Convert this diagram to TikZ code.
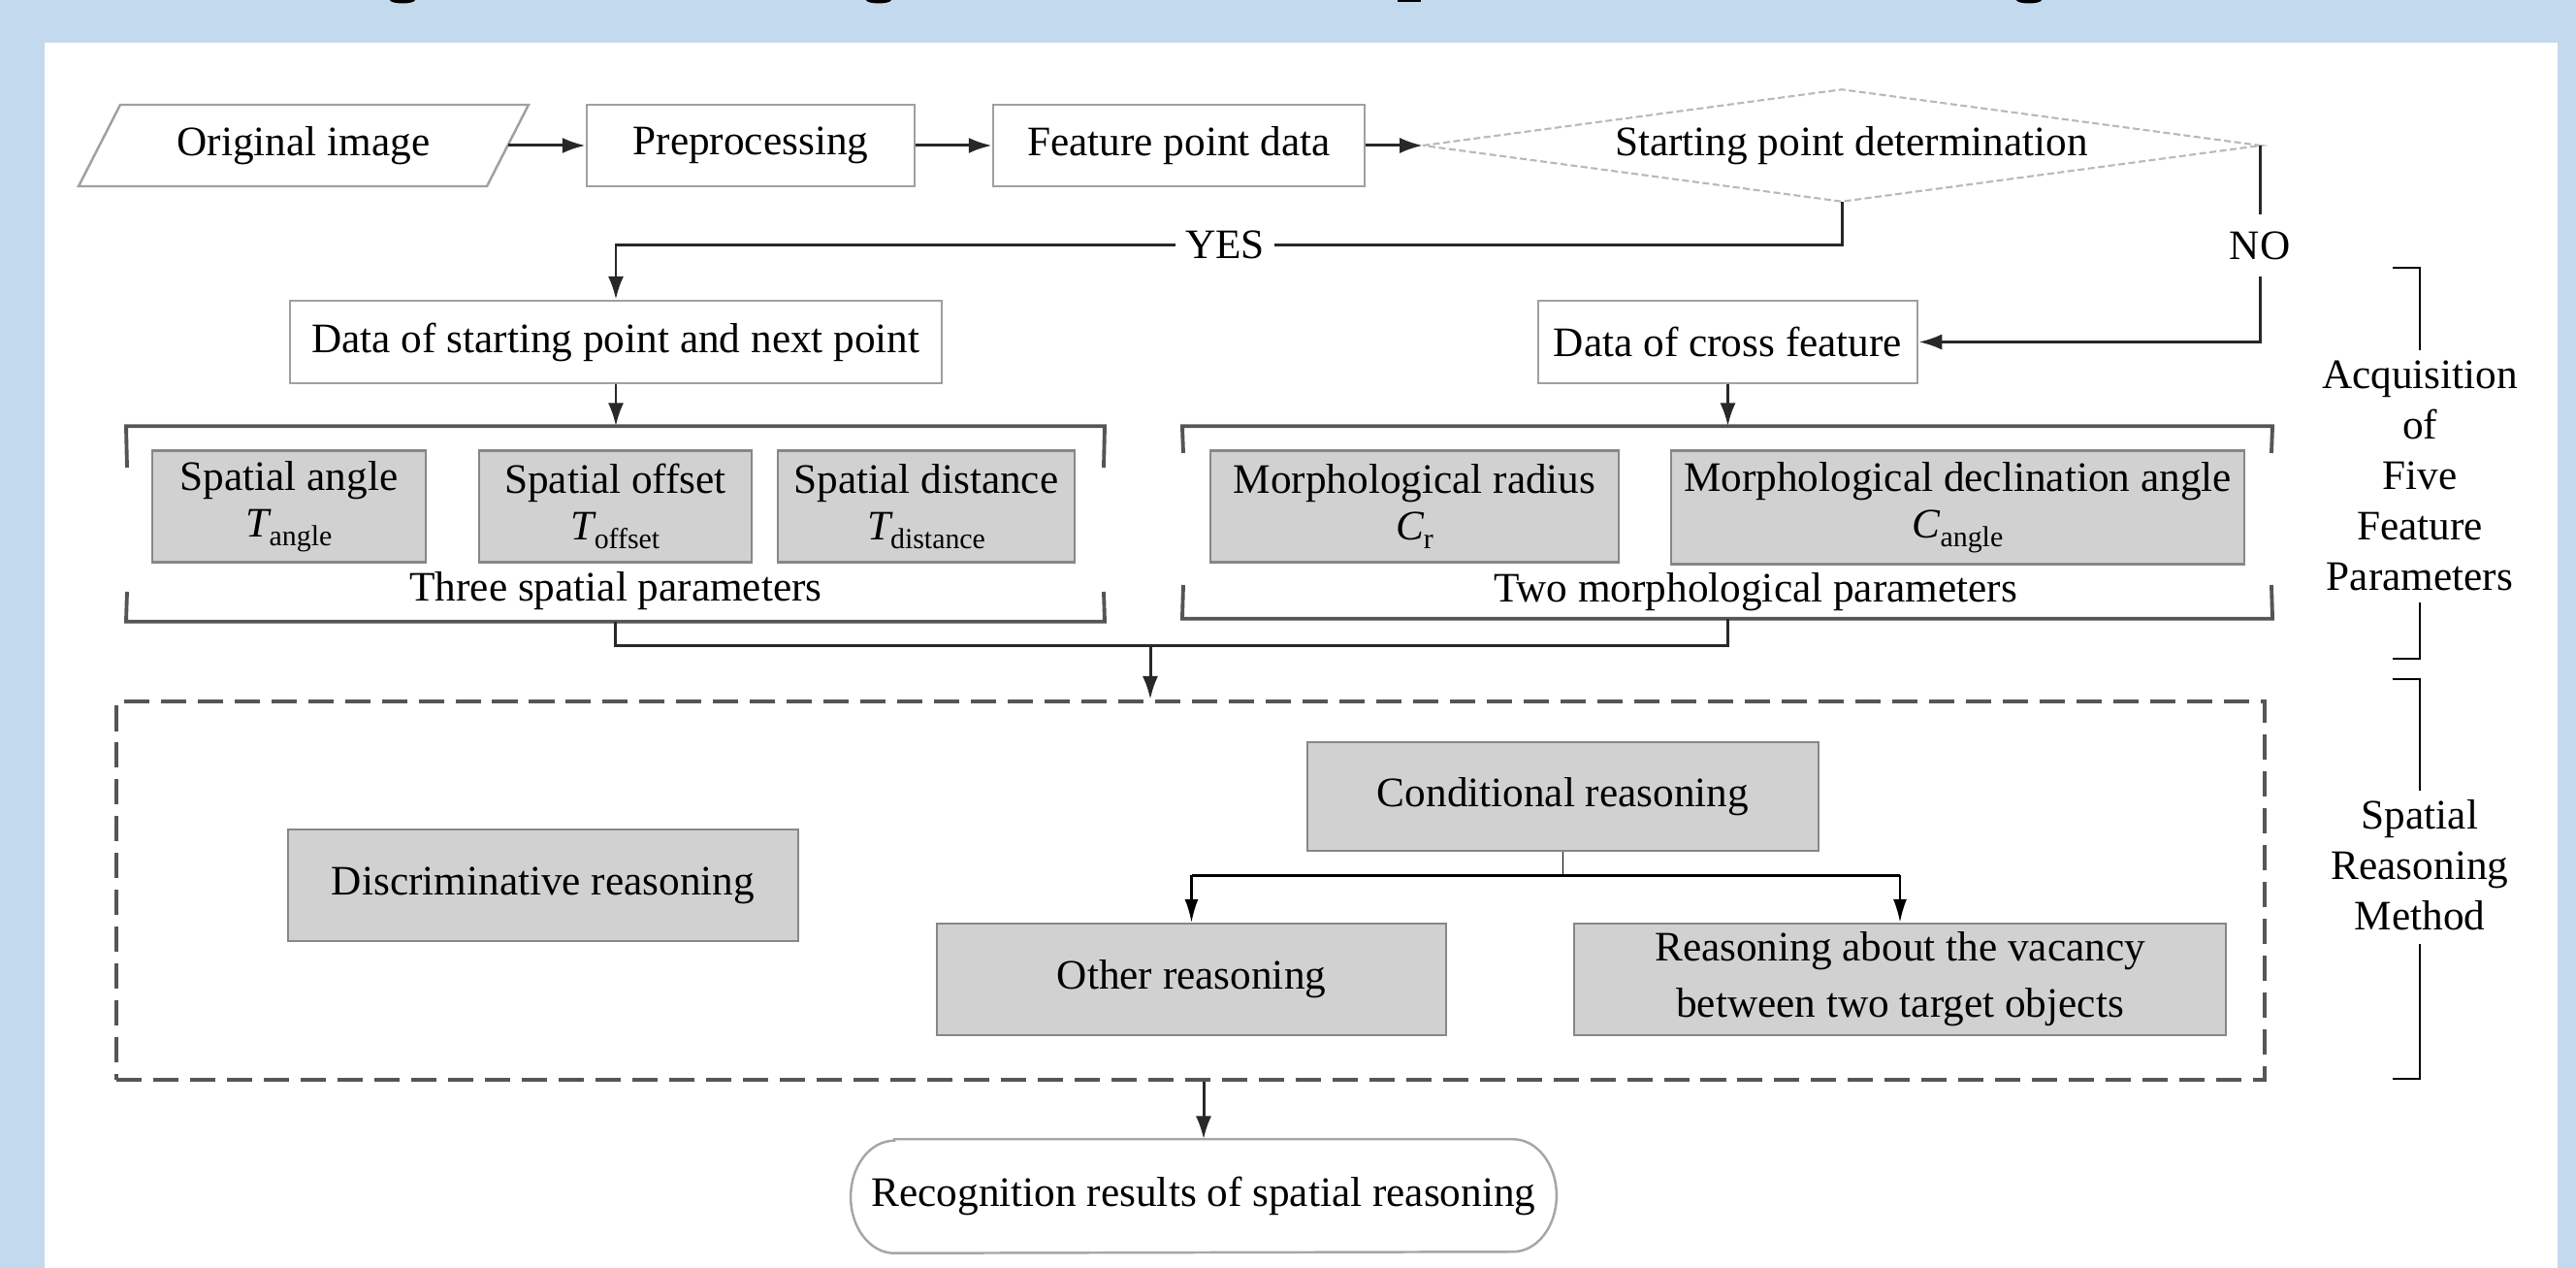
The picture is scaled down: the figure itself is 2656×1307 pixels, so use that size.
\documentclass[tikz,border=0pt]{standalone}
\usepackage{fontspec}
\setmainfont{Liberation Serif}
\usetikzlibrary{arrows.meta,calc}
\definecolor{bgblue}{RGB}{195,217,238}
\definecolor{boxedge}{RGB}{160,160,160}
\definecolor{shade}{RGB}{209,209,209}
\definecolor{shadeedge}{RGB}{135,135,135}
\definecolor{ink}{RGB}{40,40,40}
\definecolor{grp}{RGB}{85,85,85}
\newcommand\lowidx[1]{\raisebox{-0.45ex}{\fontsize{8.5}{9}\selectfont #1}}

\begin{document}
\begin{tikzpicture}[x=0.01cm,y=-0.01cm,
  every node/.style={font=\fontsize{12.3}{14.5}\selectfont, text=black, inner sep=0pt},
  plainbox/.style={draw=boxedge, line width=0.7pt, fill=white},
  shadebox/.style={draw=shadeedge, line width=0.7pt, fill=shade, align=center},
  parambox/.style={shadebox, font=\fontsize{12.3}{13.6}\selectfont, text depth=0.9cm, text height=0.1cm},
  arr/.style={draw=ink, line width=0.85pt, -{Latex[length=6.8pt,width=4.6pt]}},
  thinarr/.style={draw=black, line width=0.6pt, -{Latex[length=6.8pt,width=4pt]}},
  link/.style={draw=ink, line width=0.85pt},
  grpline/.style={draw=grp, line width=1.1pt},
  sidebrk/.style={draw=black, line width=0.7pt},
]
% canvas: blue frame and white sheet
\useasboundingbox (0,0) rectangle (2656,1307);
\fill[bgblue] (0,0) rectangle (2656,1307);
\fill[white] (46,44) rectangle (2637,1307);

% descender tips of the heading above the sheet
\fill[black] (415,0) ellipse [x radius=13, y radius=3.5];
\fill[black] (906,0) ellipse [x radius=13, y radius=3.5];
\fill[black] (1441,0) rectangle (1465,2.5);
\fill[black] (2092,0) ellipse [x radius=13, y radius=3.5];

% ---- top row ----
\node[minimum width=4.21cm, minimum height=0.84cm] (orig) at (313,150) {Original image};
\draw[plainbox, fill=none] (124,108) -- (545,108) -- (502,192) -- (81,192) -- cycle;
\node[plainbox, minimum width=3.38cm, minimum height=0.84cm] (prep) at (774,150) {Preprocessing};
\node[plainbox, minimum width=3.83cm, minimum height=0.84cm] (fpd) at (1215.5,150) {Feature point data};
\node[minimum width=8.62cm, minimum height=1.14cm] (dec) at (1899,150) {\hspace*{0.2cm}Starting point determination};
\draw[draw=gray!55, line width=0.6pt, dash pattern=on 2pt off 1pt]
  (dec.west) -- (dec.north) -- (dec.east) -- (dec.south) -- cycle;

\draw[arr] (orig.east) -- (prep.west);
\draw[arr] (prep.east) -- (fpd.west);
\draw[arr] (fpd.east) -- (dec.west);

% ---- data boxes ----
\node[plainbox, minimum width=6.72cm, minimum height=0.85cm] (dsn) at (635,352.5) {Data of starting point and next point};
\node[plainbox, minimum width=3.91cm, minimum height=0.85cm] (dcf) at (1781.5,352.5) {Data of cross feature};

\draw[arr] (dec.south) -- ++(0,45) -| (dsn.north);
\node[fill=white, inner xsep=3pt, inner ysep=2pt] (yes) at (1263,252) {YES};
\draw[arr] (dec.east) |- (dcf.east);
\node[fill=white, inner xsep=2pt, inner ysep=5pt] (no) at (2330,253) {NO};

% ---- parameter groups ----
\node[minimum width=10.07cm, minimum height=2.0cm] (spg) at (634.5,540) {};
\draw[grpline] (131,482) -- (spg.north west) -- (spg.north east) -- (1138,482);
\draw[grpline] (131,610) -- (spg.south west) -- (spg.south east) -- (1138,610);
\node[minimum width=11.22cm, minimum height=1.97cm] (mpg) at (1781,538.5) {};
\draw[grpline] (1220,467) -- (mpg.north west) -- (mpg.north east) -- (2342,467);
\draw[grpline] (1220,603) -- (mpg.south west) -- (mpg.south east) -- (2342,603);

\draw[arr] (dsn.south) -- (dsn.south |- spg.north);
\draw[arr] (dcf.south) -- (dcf.south |- mpg.north);

\node[shadebox, font=\fontsize{12.3}{13.6}\selectfont, minimum width=2.82cm, minimum height=1.15cm] (sa) at (298,522)
  {Spatial angle\\{\itshape T}\lowidx{angle}};
\node[shadebox, font=\fontsize{12.3}{13.6}\selectfont, minimum width=2.81cm, minimum height=1.15cm] (so) at (634.5,522)
  {Spatial offset\\{\itshape T}\lowidx{offset}};
\node[shadebox, font=\fontsize{12.3}{13.6}\selectfont, minimum width=3.06cm, minimum height=1.15cm] (sd) at (955,522)
  {Spatial distance\\{\itshape T}\lowidx{distance}};
\node (spl) at (635,609) {Three spatial parameters};

\node[shadebox, font=\fontsize{12.3}{13.6}\selectfont, minimum width=4.21cm, minimum height=1.15cm] (mr) at (1458.5,522)
  {Morphological radius\\{\itshape C}\lowidx{r}};
\node[shadebox, font=\fontsize{12.3}{13.6}\selectfont, minimum width=5.91cm, minimum height=1.17cm] (md) at (2018.5,523)
  {Morphological declination angle\\{\itshape C}\lowidx{angle}};
\node (mpl) at (1810,610) {Two morphological parameters};

% ---- merge into reasoning block ----
\node[draw=grp, line width=1.2pt, dash pattern=on 7.4pt off 3.4pt,
      minimum width=22.13cm, minimum height=3.9cm] (sbox) at (1227.5,918) {};
\coordinate (merge) at (1186,666);
\draw[link] (spg.south) -- (spg.south |- merge) -- (merge -| mpg.south) -- (mpg.south);
\draw[arr] (merge) -- (merge |- sbox.north);

\node[shadebox, minimum width=5.26cm, minimum height=1.15cm] (disc) at (560,912.5) {Discriminative reasoning};
\node[shadebox, minimum width=5.27cm, minimum height=1.12cm] (cond) at (1611.5,821) {Conditional reasoning};
\node[shadebox, minimum width=5.25cm, minimum height=1.15cm] (other) at (1228.5,1009.5) {Other reasoning};
\node[shadebox, minimum width=6.72cm, minimum height=1.15cm] (vac) at (1959,1009.5)
  {Reasoning about the vacancy\\[2pt]between two target objects};

\draw[draw=black, line width=0.5pt] (cond.south) -- ++(0,24) coordinate (split);
\draw[draw=black, line width=0.9pt] (split -| other.north) -- (split -| vac.north);
\draw[thinarr] (split -| other.north) -- (other.north);
\draw[thinarr] (split -| vac.north) -- (vac.north);

% ---- result ----
\node[minimum width=7.26cm, minimum height=1.16cm] (res) at (1241,1233) {Recognition results of spatial reasoning};
\draw[draw=gray!70, line width=0.7pt]
  ($(res.north west)+(45,0)$) -- ($(res.north east)+(-45,0)$)
  arc[start angle=-90, end angle=90, x radius=45, y radius=58]
  -- ($(res.south west)+(45,0)$)
  arc[start angle=90, end angle=270, x radius=45, y radius=58] -- cycle;
\draw[arr] (res.north |- sbox.south) -- (res.north);

% ---- side captions ----
\node[align=center, font=\fontsize{12.3}{14.8}\selectfont] (acq) at (2495,490)
  {Acquisition\\of\\Five\\Feature\\Parameters};
\draw[sidebrk] (2467,276) -- (2495,276) -- (2495,361);
\draw[sidebrk] (2495,621) -- (2495,679) -- (2467,679);
\node[align=center, font=\fontsize{12.3}{14.8}\selectfont] (srm) at (2495,892)
  {Spatial\\Reasoning\\Method};
\draw[sidebrk] (2467,700) -- (2495,700) -- (2495,815);
\draw[sidebrk] (2495,973) -- (2495,1112) -- (2467,1112);
\end{tikzpicture}
\end{document}
